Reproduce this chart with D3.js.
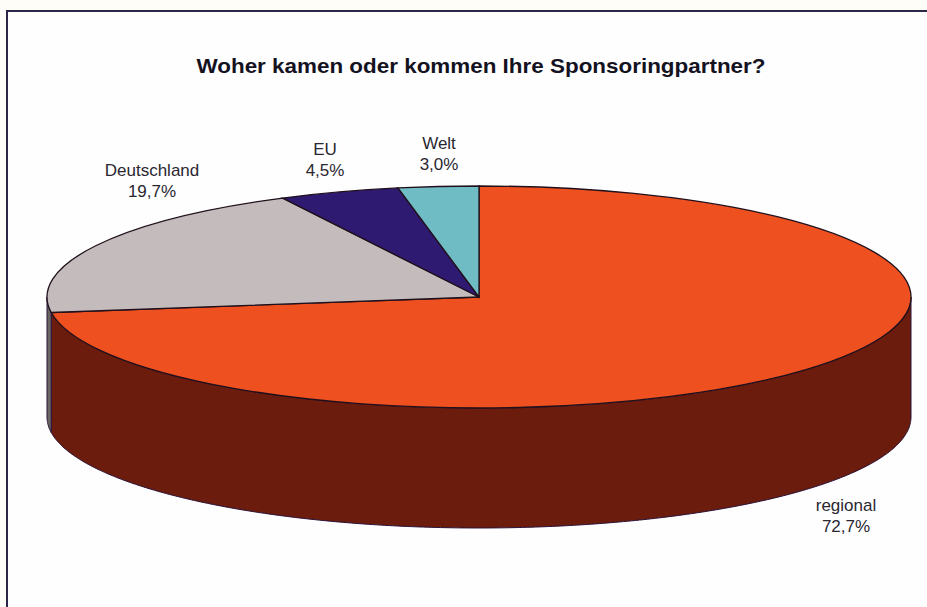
<!DOCTYPE html>
<html>
<head>
<meta charset="utf-8">
<script src="https://cdn.jsdelivr.net/npm/d3@7"></script>
<style>
  html, body { margin: 0; padding: 0; background: #fffdf8; }
  svg { display: block; }
  text { font-family: "Liberation Sans", Arial, sans-serif; }
</style>
</head>
<body>
<svg width="927" height="607"></svg>
<script>
const categories = ["regional", "Deutschland", "EU", "Welt"];
const percentages = [72.7, 19.7, 4.5, 3.0];
const percentLabels = ["72,7%", "19,7%", "4,5%", "3,0%"];
const topColors = ["#ee5020", "#c4bcbc", "#2e1a70", "#70bcc4"];
const sideColors = ["#6b1c0c", "#6a6664", "#1a0f40", "#3c666c"];
const title = "Woher kamen oder kommen Ihre Sponsoringpartner?";

const width = 927, height = 607;
const cx = 479, cy = 297;      // mitte der oberen ellipse
const rx = 432, ry = 111;
const depth = 120;
const edge = "#2a1238";

// label positions of the picture, first line baseline
const labelPos = [[846, 511], [152, 176], [325, 155], [439, 149]];

const svg = d3.select("svg");

// frame
svg.append("rect")
    .attr("x", 7).attr("y", 11)
    .attr("width", 940).attr("height", 640)
    .attr("fill", "#fefeff")
    .attr("stroke", "#2c2648")
    .attr("stroke-width", 2);

svg.append("text")
    .attr("x", 481).attr("y", 72.5)
    .attr("text-anchor", "middle")
    .attr("font-weight", "bold")
    .attr("font-size", 20.5)
    .attr("textLength", 569)
    .attr("lengthAdjust", "spacingAndGlyphs")
    .attr("fill", "#15121f")
    .text(title);

const pie = d3.pie().sort(null).value(d => d);
const slices = pie(percentages);

const chart = svg.append("g").attr("transform", `translate(${cx},${cy})`);

// die seitenwand, nur der sichtbare teil (90 bis 270 grad)
const px = a => rx * Math.sin(a);
const py = a => -ry * Math.cos(a);
const line = d3.line();

slices.forEach((s, i) => {
    const a0 = Math.max(s.startAngle, Math.PI / 2);
    const a1 = Math.min(s.endAngle, Math.PI * 1.5);
    if (a1 <= a0) return;
    const angles = d3.range(a0, a1, 0.01).concat([a1]);
    const upper = angles.map(a => [px(a), py(a)]);
    const lower = angles.slice().reverse().map(a => [px(a), py(a) + depth]);
    chart.append("path")
        .attr("d", line(upper.concat(lower)) + "Z")
        .attr("fill", sideColors[i])
        .attr("stroke", edge)
        .attr("stroke-width", 1);
});

// die oberseite: d3.arc flachgedrückt
const arc = d3.arc().innerRadius(0).outerRadius(rx);
chart.append("g")
    .attr("transform", `scale(1,${ry / rx})`)
    .selectAll("path")
    .data(slices)
    .enter()
    .append("path")
    .attr("d", arc)
    .attr("fill", (d, i) => topColors[i])
    .attr("stroke", "#20101c")
    .attr("stroke-width", 1.3)
    .attr("vector-effect", "non-scaling-stroke");

// labels
const labels = svg.selectAll(".label")
    .data(categories)
    .enter()
    .append("text")
    .attr("class", "label")
    .attr("text-anchor", "middle")
    .attr("font-size", 17)
    .attr("fill", "#2a2730");
labels.append("tspan")
    .attr("x", (d, i) => labelPos[i][0])
    .attr("y", (d, i) => labelPos[i][1])
    .text(d => d);
labels.append("tspan")
    .attr("x", (d, i) => labelPos[i][0])
    .attr("y", (d, i) => labelPos[i][1] + 21)
    .text((d, i) => percentLabels[i]);
</script>
</body>
</html>
